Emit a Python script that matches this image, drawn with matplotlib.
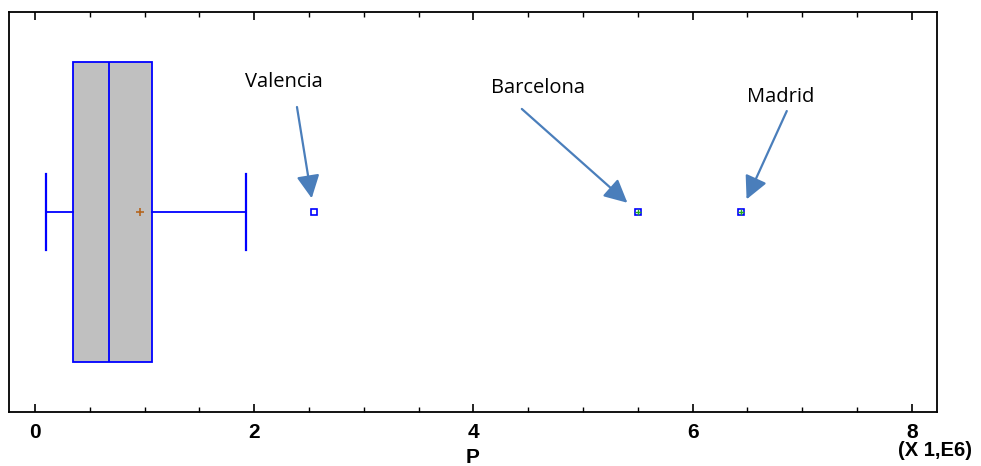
import matplotlib
matplotlib.use("Agg")
import matplotlib.pyplot as plt
from matplotlib.ticker import MultipleLocator
from matplotlib import font_manager

# ---- data (values in millions) ----
q1 = 0.347
median = 0.675
q3 = 1.068
whisker_low = 0.10
whisker_high = 1.925
mean = 0.958
outlier_names = ["Valencia", "Barcelona", "Madrid"]
outlier_values = [2.545, 5.50, 6.44]
far_outside = [False, True, True]
xticks = [0, 2, 4, 6, 8]

names = {f.name for f in font_manager.fontManager.ttflist}
tick_font = "Liberation Sans Narrow" if "Liberation Sans Narrow" in names else "Liberation Sans"

fig = plt.figure(figsize=(9.81, 4.66), dpi=100)
L, R, T, B = 9, 937, 12, 412
ax = fig.add_axes([L / 981, 1 - B / 466, (R - L) / 981, (B - T) / 466])

ycen = 0.5
stats = [dict(q1=q1, med=median, q3=q3, whislo=whisker_low, whishi=whisker_high,
              mean=mean, fliers=[])]
blue = "#0000ff"
ax.bxp(stats, positions=[ycen], widths=0.75, orientation="horizontal",
       patch_artist=True, showmeans=True, showfliers=False, capwidths=0.19,
       boxprops=dict(facecolor="#c0c0c0", edgecolor=blue, linewidth=1.3),
       medianprops=dict(color=blue, linewidth=1.3),
       whiskerprops=dict(color=blue, linewidth=1.3),
       capprops=dict(color=blue, linewidth=1.6),
       meanprops=dict(marker="+", markeredgecolor="#b5651d", markersize=6,
                      markeredgewidth=1.2))

for v, far in zip(outlier_values, far_outside):
    ax.plot([v], [ycen], marker="s", markersize=4.2, markerfacecolor="white",
            markeredgecolor=blue, markeredgewidth=1.2, linestyle="none", zorder=5)
    if far:
        ax.plot([v], [ycen], marker="+", markersize=4, markeredgecolor="#22aa22",
                markeredgewidth=1.0, linestyle="none", zorder=6)

arrow_off = [(-12.2, 75.6), (-83.5, 74.2), (33.1, 72.7)]
text_off = [(-21.6, 93.6), (-72.0, 89.3), (28.8, 82.8)]
acol = "#4a7ebb"
for name, v, ao, to in zip(outlier_names, outlier_values, arrow_off, text_off):
    ax.annotate("", xy=(v, ycen), xytext=ao, textcoords="offset points",
                arrowprops=dict(arrowstyle="-|>,head_length=1.0,head_width=0.5",
                                color=acol, lw=1.6, shrinkA=0, shrinkB=10,
                                mutation_scale=14))
    ax.annotate(name, xy=(v, ycen), xytext=to, textcoords="offset points",
                ha="center", va="center", fontsize=14.5, family="Open Sans",
                color="black")

ax.set_xlim(-0.237, 8.23)
ax.set_ylim(0, 1)
ax.set_yticks([])
ax.set_xticks(xticks)
ax.set_xticklabels([str(t) for t in xticks], fontsize=15, fontweight="bold",
                   family=tick_font)
ax.xaxis.set_minor_locator(MultipleLocator(0.5))
ax.tick_params(axis="x", which="both", direction="in", top=True, bottom=True)
ax.tick_params(axis="x", which="major", length=6, width=1.2, pad=8)
ax.tick_params(axis="x", which="minor", length=3.5, width=1.0)
for s in ax.spines.values():
    s.set_linewidth(1.3)
    s.set_color("black")

ax.set_xlabel("P", fontsize=15, fontweight="bold", family=tick_font, labelpad=4)
fig.text(935 / 981, 1 - 450 / 466, "(X 1,E6)", ha="center", va="center",
         fontsize=14.5, fontweight="bold", family=tick_font)

fig.savefig("out.png", dpi=100)
